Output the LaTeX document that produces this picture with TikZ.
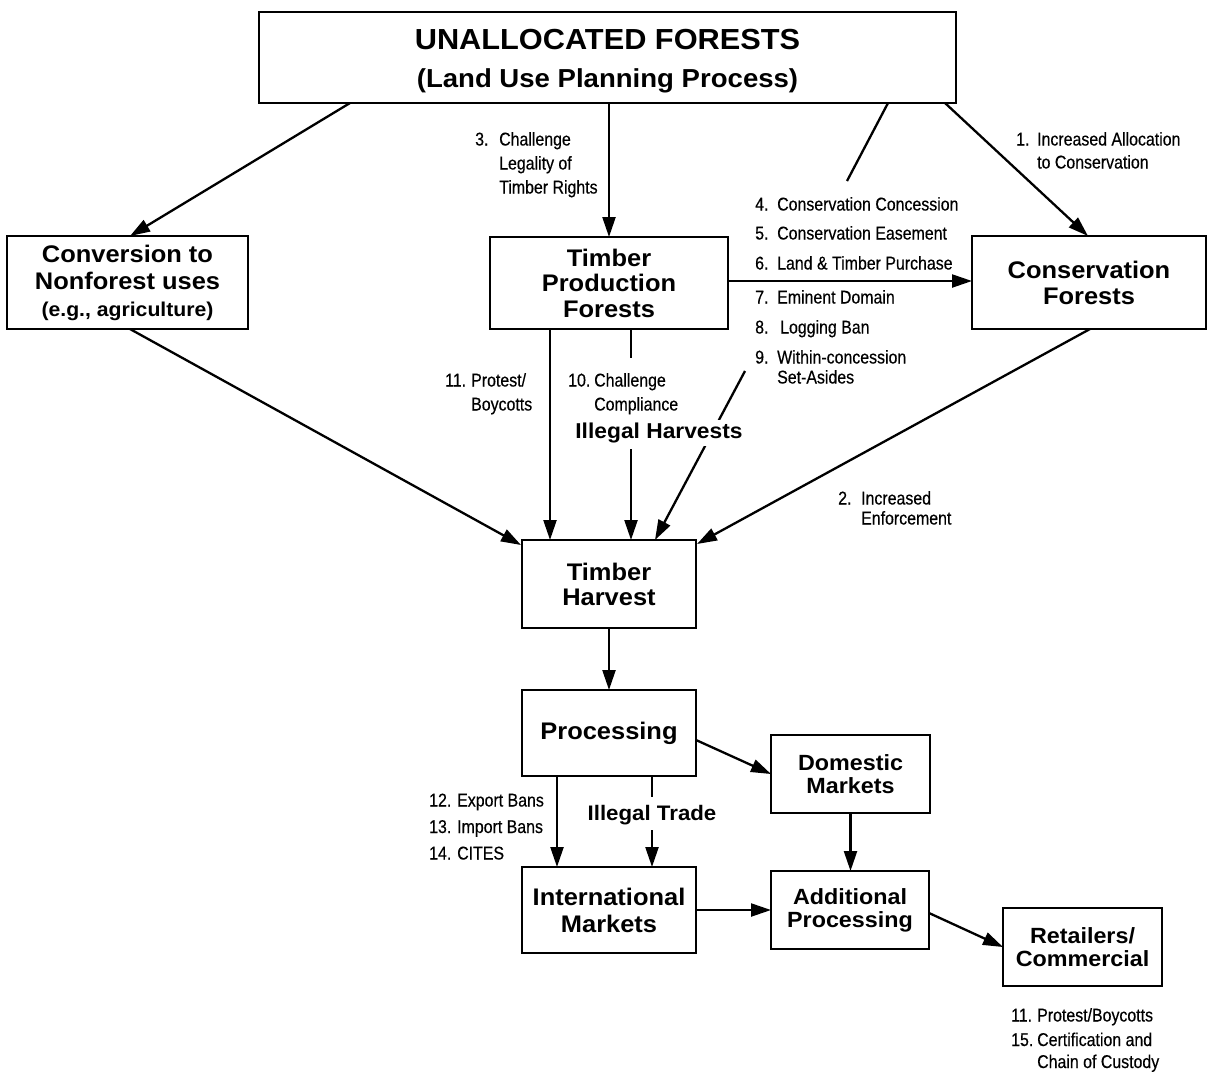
\documentclass[tikz,border=0pt]{standalone}
\usepackage{fontspec}
\usetikzlibrary{arrows.meta,calc}
\newfontfamily\bxf[FakeStretch=1.06]{Liberation Sans}
\newfontfamily\lbf[FakeStretch=0.86,FakeBold=0.4]{Liberation Sans}
\newcommand\bxsz[2]{\bxf\bfseries\fontsize{#1}{#2}\selectfont}
\newcommand\lbsz[1]{\lbf\fontsize{18.5}{#1}\selectfont}
\newcommand\numl[3]{\begin{tabular}[t]{@{}l@{}l@{}}\makebox[#1][l]{#2}&#3\end{tabular}}
\begin{document}
\begin{tikzpicture}[x=1pt,y=-1pt,
  box/.style={draw, line width=2.6pt, inner sep=0pt, outer sep=0pt, align=center},
  conn/.style={line width=2.3pt},
  arr/.style={conn, -{Triangle[length=20pt,width=13pt]}},
  lbl/.style={inner sep=0pt, anchor=base west},
  boldlbl/.style={fill=white, inner sep=3pt}]
\useasboundingbox (0,0) rectangle (1207,1072);

% boxes
\node[box, minimum width=697pt, minimum height=91pt, font=\bxsz{29}{38}] (top) at (607.5,57.5)
  {\rule{0pt}{27.5pt}UNALLOCATED FORESTS\\\fontsize{26}{38}\selectfont(Land Use Planning Process)};
\node[box, minimum width=241pt, minimum height=93pt, font=\bxsz{24}{27}] (conv) at (127.5,282.5)
  {Conversion to\\Nonforest uses\\\fontsize{20}{24}\selectfont(e.g., agriculture)};
\node[box, minimum width=238pt, minimum height=92pt, font=\bxsz{24}{25.5}] (tpf) at (609,283)
  {Timber\\Production\\Forests};
\node[box, minimum width=234pt, minimum height=93pt, font=\bxsz{24}{26}] (cons) at (1089,282.5)
  {Conservation\\Forests};
\node[box, minimum width=174pt, minimum height=88pt, font=\bxsz{24}{25}] (th) at (609,584)
  {Timber\\Harvest};
\node[box, minimum width=174pt, minimum height=86pt, font=\bxsz{24}{26}] (proc) at (609,733)
  {Processing};
\node[box, minimum width=159pt, minimum height=78pt, font=\bxsz{22}{23}] (dom) at (850.5,774)
  {Domestic\\Markets};
\node[box, minimum width=174pt, minimum height=86pt, font=\bxsz{24}{27}] (intl) at (609,910)
  {International\\Markets};
\node[box, minimum width=158pt, minimum height=78pt, font=\bxsz{22}{23}] (add) at (850,910)
  {Additional\\Processing};
\node[box, minimum width=159pt, minimum height=78pt, font=\bxsz{22}{23}] (ret) at (1082.5,947)
  {Retailers/\\Commercial};

% free ends
\coordinate (c4) at (847,181);
\coordinate (c9) at (745,371);
\coordinate (c10a) at (631,358);
\coordinate (c10b) at (631,449);
\coordinate (c12a) at (652,797);
\coordinate (c12b) at (652,830);

% connectors
\draw[arr] ($(top.south west)+(91,0)$) -- ($(conv.north west)+(123,0)$);
\draw[arr] (tpf.north |- top.south) -- (tpf.north);
\draw[conn] ($(top.south east)+(-68,0)$) -- (c4);
\draw[arr] ($(top.south east)+(-11,0)$) -- ($(cons.north west)+(116,0)$);
\draw[arr] ([yshift=2pt]tpf.east) -- ([yshift=2pt]tpf.east -| cons.west);
\draw[arr] ($(conv.south west)+(123,0)$) -- ($(th.north west)+(-1,5)$);
\draw[arr] ($(tpf.south west)+(60,0)$) -- ($(th.north west)+(28,0)$);
\draw[conn] ($(tpf.south west)+(141,0)$) -- (c10a);
\draw[arr] (c10b) -- ($(th.north west)+(109,0)$);
\draw[arr] (c9) -- ($(th.north west)+(133,0)$);
\draw[arr] ($(cons.south west)+(118,0)$) -- ($(th.north east)+(1,4)$);
\draw[arr] (th.south) -- (proc.north);
\draw[arr] ([yshift=-7pt]proc.east) -- (dom.west);
\draw[arr] ($(proc.south west)+(35,0)$) -- ($(intl.north west)+(35,0)$);
\draw[conn] ($(proc.south west)+(130,0)$) -- (c12a);
\draw[arr] (c12b) -- ($(intl.north west)+(130,0)$);
\draw[arr] (dom.south) -- (dom.south |- add.north);
\draw[arr] (intl.east) -- (add.west);
\draw[arr] ([yshift=-3pt]add.east) -- (ret.west);

% labels
\node[lbl, font=\lbsz{23}] (l1) at (1016,145.5) {\numl{21pt}{1.}{Increased Allocation\\&to Conservation}};
\node[lbl, font=\lbsz{24}] (l3) at (475,145.5) {\numl{24pt}{3.}{Challenge\\&Legality of\\&Timber Rights}};
\node[lbl, font=\lbsz{23}] (l4) at (755,210.5) {\numl{22pt}{4.}{Conservation Concession}};
\node[lbl, font=\lbsz{23}] (l5) at (755,239.5) {\numl{22pt}{5.}{Conservation Easement}};
\node[lbl, font=\lbsz{23}] (l6) at (755,269.5) {\numl{22pt}{6.}{Land \& Timber Purchase}};
\node[lbl, font=\lbsz{23}] (l7) at (755,303.5) {\numl{22pt}{7.}{Eminent Domain}};
\node[lbl, font=\lbsz{23}] (l8) at (755,333.5) {\numl{25pt}{8.}{Logging Ban}};
\node[lbl, font=\lbsz{20}] (l9) at (755,363.5) {\numl{22pt}{9.}{Within-concession\\&Set-Asides}};
\node[lbl, font=\lbsz{24}] (l11) at (445,386.5) {\numl{26pt}{11.}{Protest/\\&Boycotts}};
\node[lbl, font=\lbsz{24}] (l10) at (568,386.5) {\numl{26pt}{10.}{Challenge\\&Compliance}};
\node[lbl, font=\lbsz{20}] (l2) at (838,504.5) {\numl{23pt}{2.}{Increased\\&Enforcement}};
\node[lbl, font=\lbsz{26.5}] (l12) at (429,806.5) {\begin{tabular}[t]{@{}l@{}}12. Export Bans\\13. Import Bans\\14. CITES\end{tabular}};
\node[lbl, font=\lbsz{22}] (l15) at (1011,1021.5) {\numl{26pt}{11.}{Protest/Boycotts\\[2.5pt]\makebox[26pt][l]{15.}&Certification and\\&Chain of Custody}};

\node[boldlbl, font=\bxsz{21.5}{24}] (ih) at (659,433) {Illegal Harvests};
\node[boldlbl, font=\bxsz{21}{24}] (it) at (652,815) {Illegal Trade};
\end{tikzpicture}
\end{document}
